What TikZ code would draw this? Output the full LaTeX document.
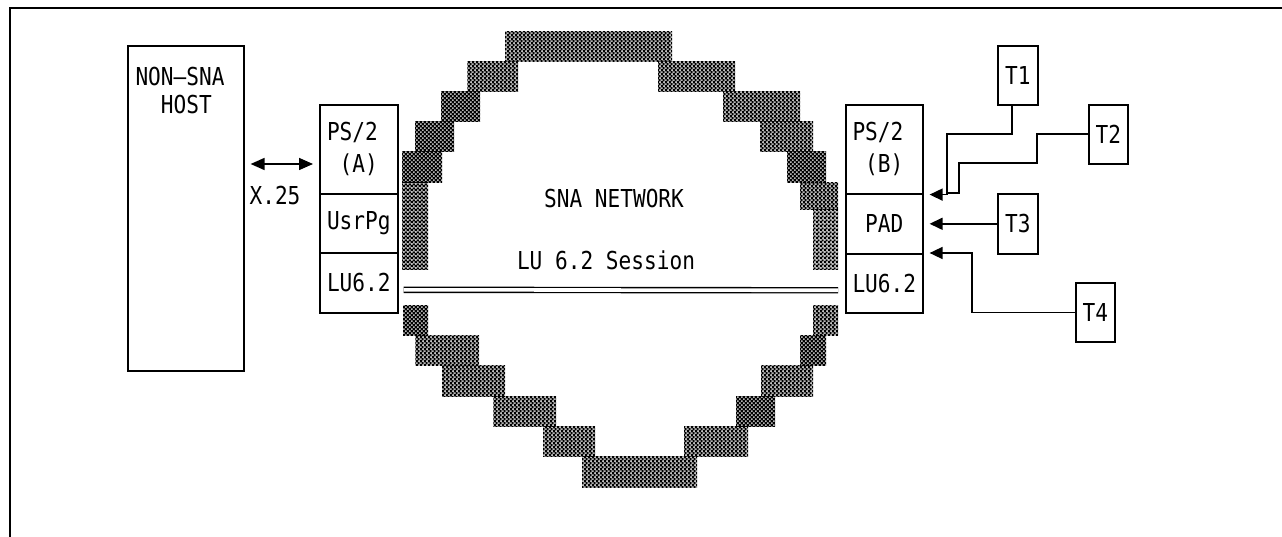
\documentclass[tikz,border=0pt]{standalone}
\usepackage{fontspec}
\newfontfamily\ibm[FakeStretch=0.855]{DejaVu Sans Mono}
\usetikzlibrary{arrows.meta,patterns}
\pgfdeclarepatternformonly{checker}{\pgfpointorigin}{\pgfpoint{4.3pt}{4.3pt}}{\pgfpoint{4.3pt}{4.3pt}}{%
  \pgfseteorule
  \pgfpathrectangle{\pgfpointorigin}{\pgfpoint{4.3pt}{4.3pt}}%
  \pgfpathrectangle{\pgfpoint{2.35pt}{0.2pt}}{\pgfpoint{1.75pt}{1.75pt}}%
  \pgfpathrectangle{\pgfpoint{0.2pt}{2.35pt}}{\pgfpoint{1.75pt}{1.75pt}}%
  \pgfusepath{fill}}
\tikzset{
  box/.style={draw, line width=1.6pt, inner sep=0pt, anchor=north west,
    font=\ibm\fontsize{24.7}{32}\selectfont},
  lbl/.style={font=\ibm\fontsize{24.7}{28}\selectfont, inner sep=0pt},
  wire/.style={line width=1.6pt},
  arr/.style={wire, -{Triangle[length=13pt,width=12pt]}},
  dblarr/.style={wire, {Triangle[length=14pt,width=12pt]}-{Triangle[length=14pt,width=12pt]}},
  sess/.style={line width=1.4pt, double distance=3.6pt},
  net/.style={pattern=checker}
}
\begin{document}
\begin{tikzpicture}[x=1pt,y=-1pt]
\useasboundingbox (0,0) rectangle (1282,537);
% frame
\draw[line width=2pt] (10,537) -- (10,8) -- (1282,8);

% network outline (checkered blocks)
\foreach \a/\b/\c/\d in {505/32/672/62, 467/62/518/92, 441/92/480/122, 415/122/454/152,
  402/152/442/183, 402/183/428/270, 658/62/735/92, 723/92/800/122, 760/122/813/152,
  787/152/826/183, 800/183/838/210, 813/210/838/270,
  403/305/428/335, 415/335/479/365, 442/365/505/396, 493/396/556/426, 543/426/595/456,
  582/456/697/487, 684/426/748/456, 736/396/775/426, 761/365/813/396, 800/335/826/365,
  813/305/838/335}
  \fill[net] (\a,\b) rectangle (\c,\d);

% host
\node[box, minimum width=116pt, minimum height=325pt] (host) at (127,45) {};
\node[lbl, align=left] (hosttxt) at (180,91) {NON–SNA\\\hphantom{NO}HOST};

% PS/2 (A)
\node[box, align=left, minimum width=78pt, minimum height=89pt] (psA) at (319,104) {PS/2\\\hphantom{P}(A)\hphantom{P}};
\node[box, minimum width=78pt, minimum height=59pt] (usrA) at (319,193) {UsrPg};
\node[box, minimum width=78pt, minimum height=60pt] (luA) at (319,252) {LU6.2};

% PS/2 (B)
\node[box, align=left, minimum width=77pt, minimum height=89pt] (psB) at (845,104) {PS/2\\\hphantom{P}(B)\hphantom{P}};
\node[box, minimum width=77pt, minimum height=60pt] (padB) at (845,193) {PAD};
\node[box, minimum width=77pt, minimum height=59pt] (luB) at (845,253) {LU6.2};

% terminals
\node[box, minimum width=40pt, minimum height=59pt] (T1) at (997,45) {T1};
\node[box, minimum width=39pt, minimum height=59pt] (T2) at (1088,104) {T2};
\node[box, minimum width=40pt, minimum height=60pt] (T3) at (997,193) {T3};
\node[box, minimum width=39pt, minimum height=59pt] (T4) at (1075,282) {T4};

% labels
\node[lbl] (x25) at (275,196) {X.25};
\node[lbl] (sna) at (614,199) {SNA NETWORK};
\node[lbl] (sess) at (606,260) {LU 6.2 Session};

% X.25 link
\coordinate (xy) at (0,164);
\draw[dblarr] ([xshift=6pt]host.east |- xy) -- ([xshift=-6pt]psA.west |- xy);

% LU 6.2 session
\draw[sess] ([xshift=5pt,yshift=-7pt]luA.east) -- ([xshift=-7pt,yshift=-7pt]luB.west);

% terminal connections
\draw[arr] ([xshift=-6pt]T1.south) |- (947,134) |- ([xshift=6pt]psB.south east);
\draw[wire] (T2.west) -| (1037,163) -| (959,193) -- (947,193);
\draw[arr] (T3.west) -- ([xshift=6pt]padB.east);
\draw[arr] (T4.west) -| (972,253) -- ([xshift=6pt]luB.north east);
\end{tikzpicture}
\end{document}
